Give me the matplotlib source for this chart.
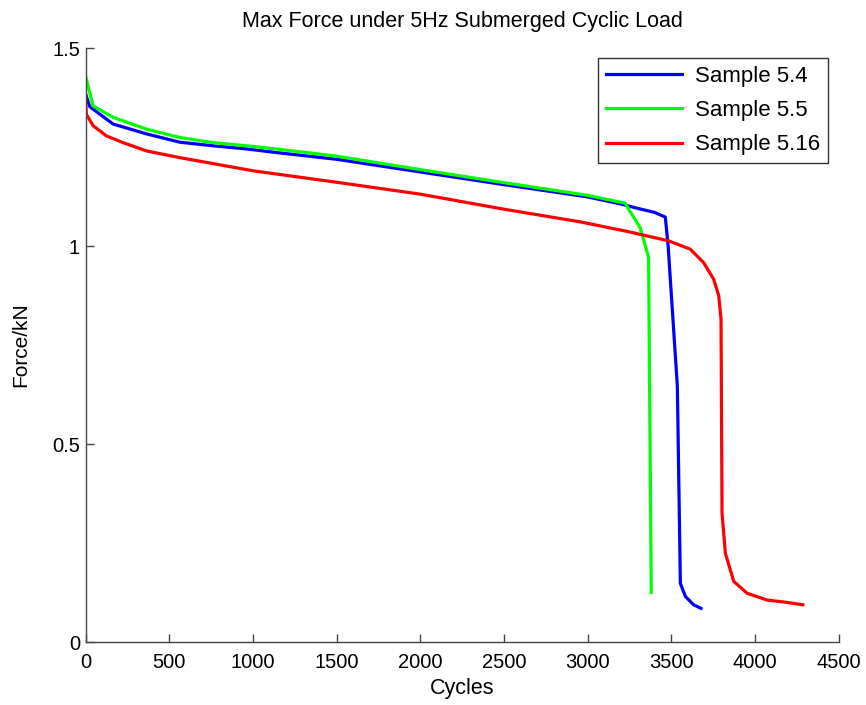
import matplotlib
matplotlib.use("Agg")
import matplotlib.pyplot as plt

plt.rcParams['font.family'] = ['Liberation Sans', 'DejaVu Sans']

title = "Max Force under 5Hz Submerged Cyclic Load"
xlabel = "Cycles"
ylabel = "Force/kN"

labels = ["Sample 5.4", "Sample 5.5", "Sample 5.16"]
colors = ["#0000ff", "#00ff00", "#ff0000"]

s54_x = [0, 25, 85, 165, 365, 565, 765, 965, 1140, 1500, 2000, 2500, 3000, 3200,
         3300, 3400, 3465, 3482, 3495, 3537, 3555, 3585, 3634, 3678]
s54_y = [1.385, 1.352, 1.333, 1.308, 1.283, 1.262, 1.253, 1.245, 1.236, 1.219, 1.187,
         1.155, 1.124, 1.106, 1.095, 1.085, 1.073, 1.0, 0.916, 0.646, 0.148, 0.115,
         0.094, 0.085]

s55_x = [0, 45, 165, 365, 565, 765, 965, 1140, 1500, 2000, 2500, 3000, 3226, 3246,
         3315, 3365, 3381]
s55_y = [1.43, 1.354, 1.325, 1.295, 1.274, 1.261, 1.253, 1.245, 1.227, 1.193, 1.16,
         1.128, 1.108, 1.093, 1.046, 0.971, 0.125]

s516_x = [0, 5, 45, 125, 225, 365, 565, 1000, 1500, 2000, 2500, 2956, 3235, 3485,
          3614, 3694, 3754, 3784, 3798, 3804, 3824, 3874, 3954, 4073, 4193, 4287]
s516_y = [1.375, 1.333, 1.304, 1.278, 1.261, 1.24, 1.223, 1.19, 1.161, 1.131, 1.093,
          1.061, 1.037, 1.013, 0.992, 0.958, 0.916, 0.875, 0.815, 0.326, 0.224, 0.153,
          0.123, 0.106, 0.100, 0.094]

xticks = [0, 500, 1000, 1500, 2000, 2500, 3000, 3500, 4000, 4500]
yticks = [0, 0.5, 1, 1.5]
yticklabels = ["0", "0.5", "1", "1.5"]

fig = plt.figure(figsize=(8.66, 7.05), dpi=100)
ax = fig.add_axes([85.5/866, 63/705, 753/866, 594/705])

for xs, ys, lab, c in zip([s54_x, s55_x, s516_x], [s54_y, s55_y, s516_y], labels, colors):
    ax.plot(xs, ys, color=c, lw=2.3, label=lab)

ax.set_xlim(0, 4500)
ax.set_ylim(0, 1.5)
ax.set_xticks(xticks)
ax.set_yticks(yticks)
ax.set_yticklabels(yticklabels)
for s in ['top', 'right']:
    ax.spines[s].set_visible(False)
for s in ['left', 'bottom']:
    ax.spines[s].set_color('#444444')
    ax.spines[s].set_linewidth(1.0)
ax.tick_params(direction='in', length=6, width=1, color='#444444', labelsize=14.5,
               labelcolor='black')
ax.tick_params(axis='x', pad=8)
ax.tick_params(axis='y', pad=4)

ax.set_title(title, fontsize=15.5, pad=15)
ax.set_xlabel(xlabel, fontsize=15.5, labelpad=4)
ax.set_ylabel(ylabel, fontsize=15, labelpad=16)

leg = ax.legend(loc='upper right', bbox_to_anchor=(828/866, 1 - 58/705),
                bbox_transform=fig.transFigure, fontsize=16, frameon=True,
                fancybox=False, handlelength=3.4, borderpad=0.35, labelspacing=0.6,
                handletextpad=0.6, borderaxespad=0)
leg.get_frame().set_edgecolor('black')
leg.get_frame().set_linewidth(1.0)

fig.savefig("out.png", dpi=100)
